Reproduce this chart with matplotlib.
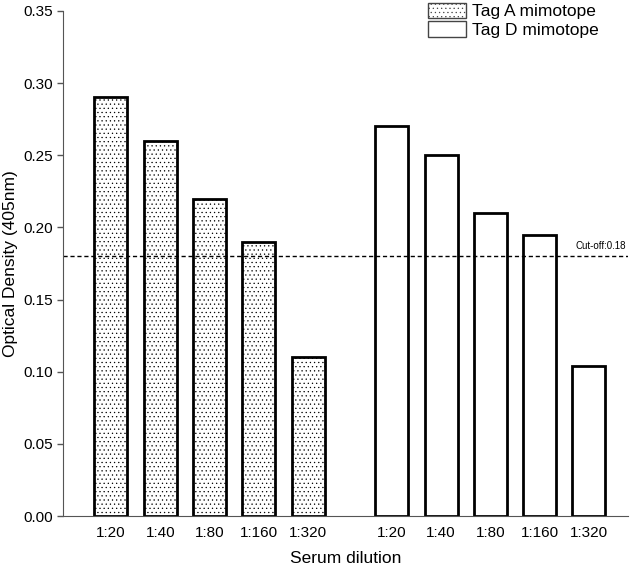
import numpy as np
import matplotlib.pyplot as plt
from matplotlib.patches import Patch

dilutions = ["1:20", "1:40", "1:80", "1:160", "1:320"]
tag_a = [0.29, 0.26, 0.22, 0.19, 0.11]
tag_d = [0.27, 0.25, 0.21, 0.195, 0.104]
cutoff = 0.18

plt.rcParams['font.family'] = ['Liberation Sans', 'DejaVu Sans']
plt.rcParams['hatch.linewidth'] = 0.4
plt.rcParams['hatch.color'] = '#666666'

fig = plt.figure(figsize=(6.38, 5.71), dpi=100)
ax = fig.add_axes([0.099, 0.096, 0.885, 0.885])

xa = np.arange(len(dilutions))
xd = xa + 5.7
w = 0.67

ax.bar(xa, tag_a, width=w, color='white', edgecolor='black', linewidth=2, hatch='....')
ax.bar(xd, tag_d, width=w, color='white', edgecolor='black', linewidth=2)

ax.axhline(cutoff, color='black', linestyle=(0, (3, 2)), linewidth=1)
ax.text(10.45, cutoff + 0.004, "Cut-off:0.18", fontsize=7, ha='right', va='bottom')

ax.set_xlim(-0.97, 10.49)
ax.set_ylim(0, 0.35)
ax.set_yticks(np.arange(0, 0.351, 0.05))
ax.set_yticklabels([f"{v:.2f}" for v in np.arange(0, 0.351, 0.05)], fontsize=11)
ax.set_xticks(np.concatenate([xa, xd]))
ax.set_xticklabels(dilutions + dilutions, fontsize=11)
ax.tick_params(axis='x', length=0, pad=7)
ax.tick_params(axis='y', length=4, width=1, color='#555555')

ax.spines['top'].set_visible(False)
ax.spines['right'].set_visible(False)
ax.spines['left'].set_color('#555555')
ax.spines['bottom'].set_color('#555555')

ax.set_xlabel("Serum dilution", fontsize=12.5, labelpad=8)
ax.set_ylabel("Optical Density (405nm)", fontsize=12.5)

handles = [Patch(facecolor='white', edgecolor='#444444', hatch='....', label='Tag A mimotope'),
           Patch(facecolor='white', edgecolor='#444444', label='Tag D mimotope')]
ax.legend(handles=handles, loc='upper right', bbox_to_anchor=(0.96, 1.03), frameon=False,
          fontsize=12.5, handlelength=2.2, handleheight=1.0, handletextpad=0.3,
          labelspacing=0.1, borderaxespad=0)

fig.savefig("out.png", dpi=100)
